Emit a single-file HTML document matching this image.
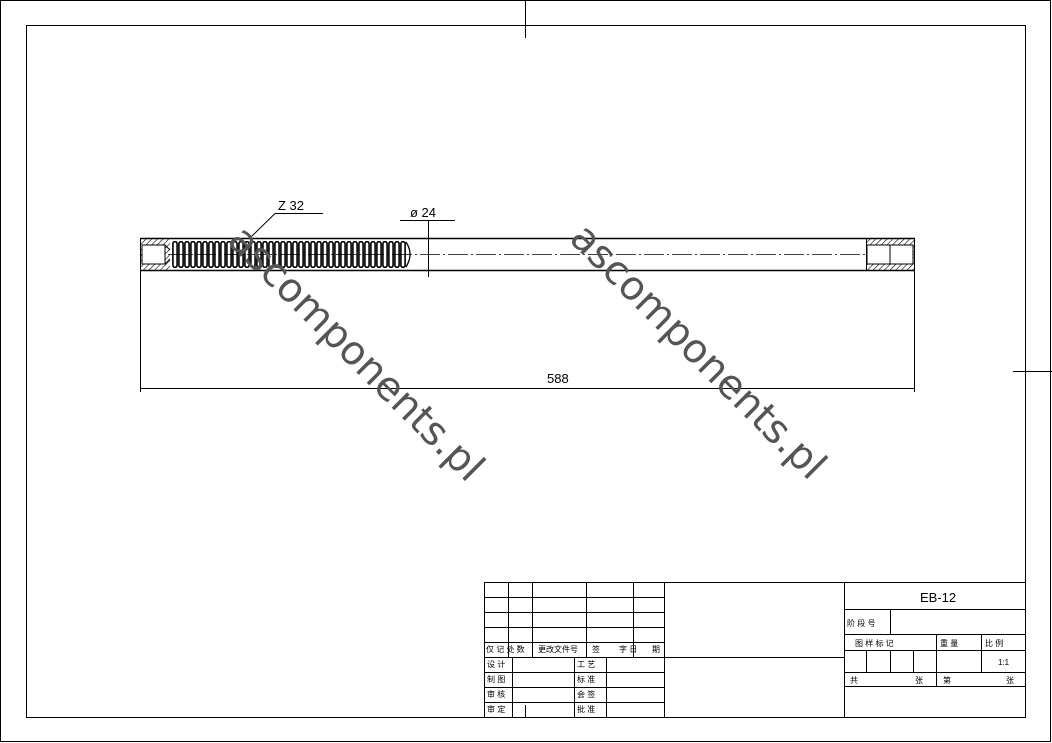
<!DOCTYPE html>
<html><head><meta charset="utf-8"><style>
body{margin:0;background:#fff;}
svg{display:block;font-family:"Liberation Sans","Noto Sans CJK SC",sans-serif;}
</style></head><body>
<svg width="1052" height="743" viewBox="0 0 1052 743" xmlns="http://www.w3.org/2000/svg">
<defs>
<pattern id="hat" width="4" height="4" patternUnits="userSpaceOnUse" patternTransform="rotate(45)">
<line x1="0" y1="0" x2="0" y2="4" stroke="#000" stroke-width="1.2"/></pattern>
<pattern id="thr" x="172" y="241" width="6" height="27" patternUnits="userSpaceOnUse">
<rect x="0.9" y="0.7" width="4.2" height="25.6" rx="2" fill="none" stroke="#000" stroke-width="1.6"/></pattern>
</defs>
<rect x="0.5" y="0.5" width="1050" height="741" fill="none" stroke="#000"/>
<rect x="26.5" y="25.5" width="999" height="692" fill="none" stroke="#000"/>
<line x1="525.5" y1="0" x2="525.5" y2="38" stroke="#000"/>
<line x1="1013" y1="371.5" x2="1052" y2="371.5" stroke="#000"/>

<g stroke="#000" fill="none">
<line x1="140" y1="238.5" x2="915" y2="238.5" stroke-width="1.4"/>
<line x1="140" y1="270.5" x2="915" y2="270.5" stroke-width="1.4"/>
<line x1="140.5" y1="238" x2="140.5" y2="392"/>
<line x1="914.5" y1="238" x2="914.5" y2="392"/>
<line x1="140" y1="254.5" x2="915" y2="254.5" stroke-dasharray="20,3,2,3" stroke-width="0.8"/>
</g>
<rect x="141" y="239" width="29" height="31" fill="url(#hat)"/>
<rect x="142" y="245" width="23" height="19" fill="#fff" stroke="#000"/>
<line x1="165" y1="245" x2="170" y2="250" stroke="#000"/><line x1="165" y1="264" x2="170" y2="259" stroke="#000"/>
<rect x="172" y="241" width="234" height="27" fill="url(#thr)"/>
<path d="M406 242 Q414 254 406 267" fill="none" stroke="#000" stroke-width="1.3"/>
<rect x="866" y="239" width="48" height="31" fill="url(#hat)"/>
<rect x="867" y="245" width="28" height="19" fill="#fff" stroke="#000"/>
<rect x="890" y="245" width="23" height="19" fill="#fff" stroke="#000"/>
<line x1="866.5" y1="238" x2="866.5" y2="270" stroke="#000"/>
<g stroke="#000" fill="none">
<line x1="275" y1="213.5" x2="323" y2="213.5"/>
<line x1="275" y1="213.5" x2="250" y2="238"/>
<line x1="400" y1="220.5" x2="455" y2="220.5"/>
<line x1="428.5" y1="220" x2="428.5" y2="277"/>
</g>
<text x="278" y="210" font-size="13">Z 32</text>
<text x="410" y="217" font-size="13">ø 24</text>
<line x1="140" y1="388.5" x2="915" y2="388.5" stroke="#000"/>
<text x="547" y="383" font-size="13">588</text>

<g fill="#555" font-size="40" font-family="'DejaVu Sans','Liberation Sans',sans-serif">
<text transform="translate(226,242) rotate(45)">ascomponents.pl</text>
<text transform="translate(568,240) rotate(45)">ascomponents.pl</text>
</g>

<g stroke="#000" fill="none">
<rect x="484.5" y="582.5" width="541" height="135" fill="#fff"/>
<line x1="664.5" y1="582" x2="664.5" y2="717"/>
<line x1="844.5" y1="582" x2="844.5" y2="717"/>
<path d="M484 597.5H664M484 612.5H664M484 627.5H664M484 642.5H664M484 657.5H845M484 672.5H664M484 687.5H664M484 702.5H664"/>
<path d="M508.5 582V657M532.5 582V657M586.5 582V657M633.5 582V657"/>
<path d="M512.5 657V717M574.5 657V717M606.5 657V717"/>
<path d="M844 609.5H1025M844 634.5H1025M844 650.5H1025M844 672.5H1025M844 686.5H1025"/>
<path d="M890.5 609V634M936.5 634V686M981.5 634V672M866.5 650V672M890.5 650V672M913.5 650V672"/>
<line x1="525.5" y1="705" x2="525.5" y2="717"/>
</g>
<text x="920" y="602" font-size="13">EB-12</text>
<g font-size="8" fill="#000">
<text x="486" y="652">仅 记 处 数</text><text x="538" y="652">更改文件号</text><text x="592" y="652">签</text><text x="619" y="652">字 日</text><text x="652" y="652">期</text>
<text x="487" y="667">设 计</text><text x="487" y="682">制 图</text><text x="487" y="697">审 核</text><text x="487" y="712">审 定</text>
<text x="577" y="667">工 艺</text><text x="577" y="682">标 准</text><text x="577" y="697">会 签</text><text x="577" y="712">批 准</text>
<text x="847" y="626">阶 段 号</text>
<text x="855" y="646">图 样 标 记</text><text x="940" y="646">重 量</text><text x="985" y="646">比 例</text>
<text x="998" y="665">1:1</text>
<text x="850" y="683">共</text><text x="915" y="683">张</text><text x="943" y="683">第</text><text x="1006" y="683">张</text>
</g>
</svg>
</body></html>
